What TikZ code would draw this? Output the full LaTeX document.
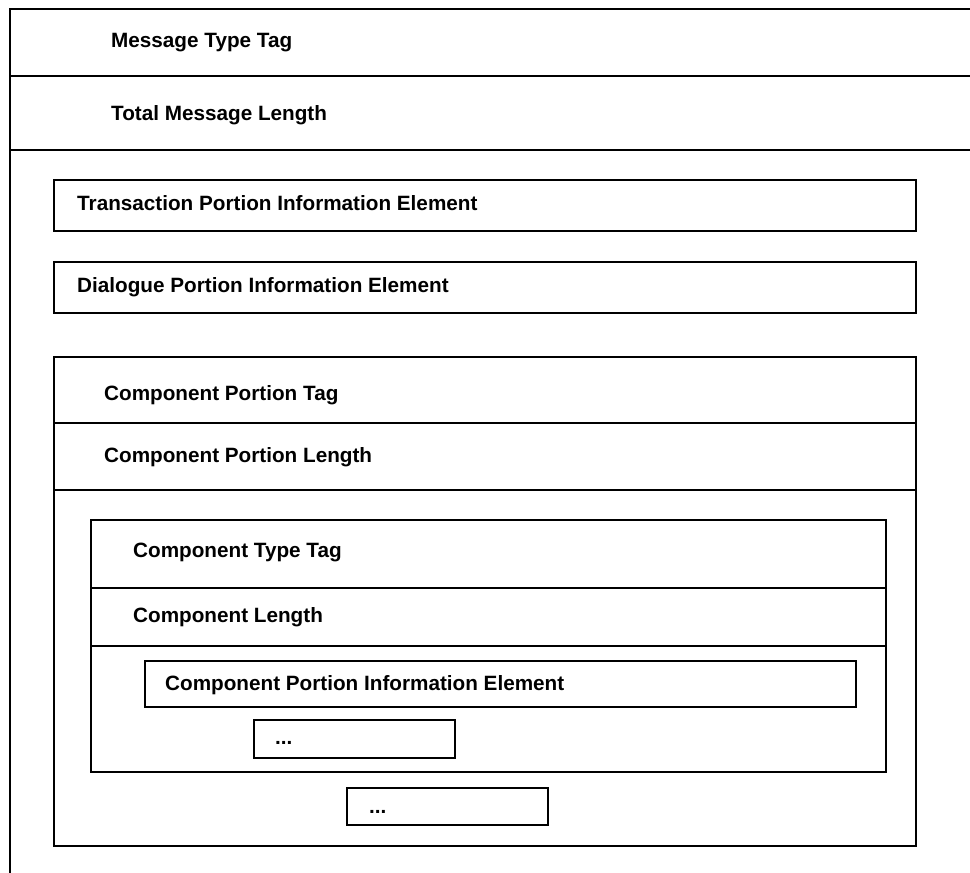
\documentclass[tikz,border=0pt]{standalone}
\usepackage{fontspec}
\setmainfont{Liberation Sans}
\usetikzlibrary{positioning}
\tikzset{
  frame/.style={draw=black, line width=2.4pt, line cap=rect},
  field/.style={font=\fontsize{20.7}{24}\selectfont\bfseries, anchor=base west, inner sep=0pt},
}
\begin{document}
\begin{tikzpicture}[x=1pt,y=-1pt]
  \useasboundingbox (0,0) rectangle (970,873);
  % outer message frame, open to the right and bottom
  \draw[frame] (970,9) -- (10,9) -- (10,873);
  \foreach \y in {76,150}
    \draw[frame] (10,\y) -- (970,\y);
  \node[field] (msgtag) at (111,47) {Message Type Tag};
  \node[field] (msglen) at (111,120) {Total Message Length};
  % information elements
  \draw[frame] (54,180) rectangle (916,231);
  \node[field] (trans) at (77,210) {Transaction Portion Information Element};
  \draw[frame] (54,262) rectangle (916,313);
  \node[field] (dialog) at (77,292) {Dialogue Portion Information Element};
  % component portion
  \draw[frame] (54,357) rectangle (916,846);
  \foreach \y in {423,490}
    \draw[frame] (54,\y) -- (916,\y);
  \node[field] (cptag) at (104,400) {Component Portion Tag};
  \node[field] (cplen) at (104,462) {Component Portion Length};
  % component
  \draw[frame] (91,520) rectangle (886,772);
  \foreach \y in {588,646}
    \draw[frame] (91,\y) -- (886,\y);
  \node[field] (ctag) at (133,557) {Component Type Tag};
  \node[field] (clen) at (133,622) {Component Length};
  \draw[frame] (145,661) rectangle (856,707);
  \node[field] (cpie) at (165,690) {Component Portion Information Element};
  \draw[frame] (254,720) rectangle (455,758);
  \node[field] (moreie) at (275,744) {...};
  \draw[frame] (347,788) rectangle (548,825);
  \node[field] (morecomp) at (369,813) {...};
\end{tikzpicture}
\end{document}
